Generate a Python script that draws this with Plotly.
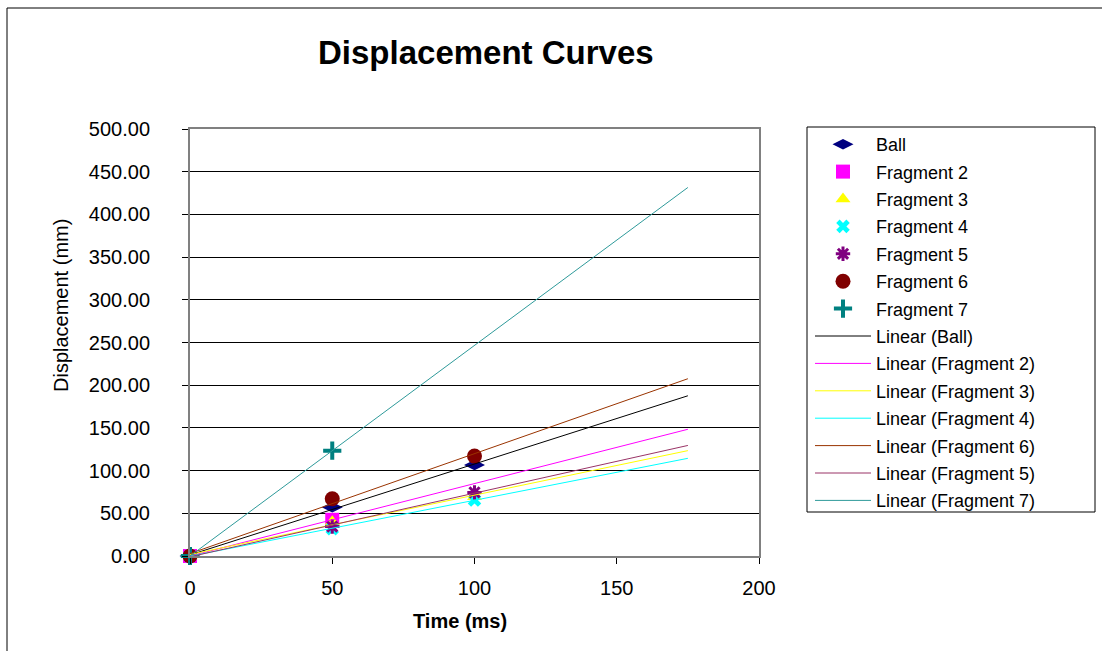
import numpy as np
import plotly.graph_objects as go

# Sample times (ms) and measured displacements (mm)
time_ms = [0, 50, 100]
ball = [0, 57, 106.5]
fragment_2 = [0, 42.4, None]
fragment_3 = [0, 40, 69.5]
fragment_4 = [0, 32, 65.5]
fragment_5 = [0, 34.5, 74.5]
fragment_6 = [0, 67, 117]
fragment_7 = [0, 123.3, None]

trend_end = 175
y_ticks = [0, 50, 100, 150, 200, 250, 300, 350, 400, 450, 500]
x_ticks = [0, 50, 100, 150, 200]

W, H = 1102, 651
ML, MR, MT, MB = 190, 343, 129, 95
PW, PH = W - ML - MR, H - MT - MB


def px(x):
    return (x - ML) / PW


def py(y):
    return (H - MB - y) / PH


FONT = "Liberation Sans, Arial, sans-serif"

series = [
    ("Ball", ball, dict(symbol="diamond-wide", size=15, color="#000080")),
    ("Fragment 2", fragment_2, dict(symbol="square", size=14, color="#FF00FF")),
    ("Fragment 3", fragment_3, dict(symbol="triangle-up", size=13, color="#FFFF00")),
    ("Fragment 4", fragment_4, dict(symbol="x", size=12, color="#00FFFF")),
    ("Fragment 5", fragment_5, dict(symbol="asterisk-open", size=12, color="#800080",
                                    line=dict(color="#800080", width=3))),
    ("Fragment 6", fragment_6, dict(symbol="circle", size=15, color="#800000")),
    ("Fragment 7", fragment_7, dict(symbol="cross-thin-open", size=13, color="#008080",
                                    line=dict(color="#008080", width=4))),
]

trend_colors = {
    "Ball": "#000000",
    "Fragment 2": "#FF00FF",
    "Fragment 3": "#FFFF00",
    "Fragment 4": "#00FFFF",
    "Fragment 6": "#993300",
    "Fragment 5": "#993366",
    "Fragment 7": "#2E9A9A",
}
trend_order = ["Ball", "Fragment 2", "Fragment 3", "Fragment 4",
               "Fragment 6", "Fragment 5", "Fragment 7"]

fig = go.Figure()

for i, (name, vals, mk) in enumerate(series):
    fig.add_trace(go.Scatter(
        x=time_ms, y=vals, mode="markers", name=name, marker=mk,
        cliponaxis=False, legendgroup=f"g{i}",
    ))

data_by_name = {name: vals for name, vals, _ in series}
for j, name in enumerate(trend_order):
    vals = data_by_name[name]
    xs = np.array([t for t, v in zip(time_ms, vals) if v is not None], float)
    ys = np.array([v for v in vals if v is not None], float)
    slope, intercept = np.polyfit(xs, ys, 1)
    tx = np.array([0, trend_end], float)
    fig.add_trace(go.Scatter(
        x=tx, y=slope * tx + intercept, mode="lines",
        name=f"Linear ({name})",
        line=dict(color=trend_colors[name], width=1),
        cliponaxis=False, legendgroup=f"t{j}",
    ))

axis_common = dict(
    zeroline=False, showline=True, linecolor="#808080",
    linewidth=2, mirror=True, ticks="outside", ticklen=6, tickcolor="#000000",
    tickfont=dict(family=FONT, size=20, color="#000000"),
)

fig.update_xaxes(range=[0, 200], tickvals=x_ticks, showgrid=False,
                 ticklabelstandoff=7, **axis_common)
fig.update_yaxes(range=[0, 500], tickvals=y_ticks, tickformat=".2f",
                 showgrid=True, gridcolor="#000000", gridwidth=1,
                 ticklabelstandoff=28, **axis_common)

shapes = [
    # outer chart frame
    dict(type="rect", xref="paper", yref="paper",
         x0=px(7), x1=px(W + 20), y0=py(8), y1=py(H + 20),
         line=dict(color="#000000", width=1)),
    # legend frame
    dict(type="rect", xref="paper", yref="paper",
         x0=px(807), x1=px(1095), y0=py(127), y1=py(512),
         line=dict(color="#000000", width=1)),
]

annotations = [
    dict(text="Displacement Curves", x=px(486), y=py(52), xref="paper", yref="paper",
         showarrow=False, xanchor="center", yanchor="middle",
         font=dict(family=FONT, size=33, color="#000000", weight="bold")),
    dict(text="Time (ms)", x=px(460), y=py(621), xref="paper", yref="paper",
         showarrow=False, xanchor="center", yanchor="middle",
         font=dict(family=FONT, size=20, color="#000000", weight="bold")),
    dict(text="Displacement (mm)", x=px(61), y=py(306), xref="paper", yref="paper",
         showarrow=False, xanchor="center", yanchor="middle", textangle=-90,
         font=dict(family=FONT, size=20, color="#000000")),
]

fig.update_layout(
    width=W, height=H,
    margin=dict(l=ML, r=MR, t=MT, b=MB),
    paper_bgcolor="#FFFFFF", plot_bgcolor="#FFFFFF",
    showlegend=True,
    legend=dict(
        x=px(810), y=py(126), xanchor="left", yanchor="top",
        bgcolor="rgba(0,0,0,0)", borderwidth=0,
        font=dict(family=FONT, size=18, color="#000000"),
        itemwidth=56, tracegroupgap=1, maxheight=640,
    ),
    shapes=shapes,
    annotations=annotations,
)

fig.write_html("out.html")
